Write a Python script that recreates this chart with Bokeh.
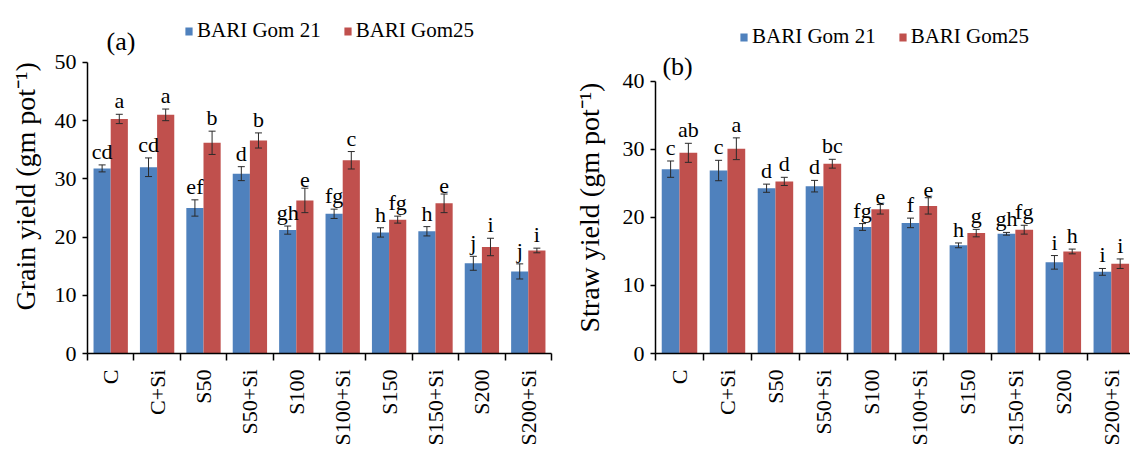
import numpy as np
from bokeh.plotting import figure
from bokeh.layouts import row
from bokeh.models import (ColumnDataSource, Range1d, FixedTicker, Whisker, Legend,
                          LegendItem, Label, TeeHead, Title)
from bokeh.transform import dodge
from bokeh.core.properties import value
from bokeh.embed import file_html
from bokeh.resources import INLINE

treatments = ["C", "C+Si", "S50", "S50+Si", "S100", "S100+Si", "S150", "S150+Si", "S200", "S200+Si"]
series = ["BARI Gom 21", "BARI Gom25"]

grain_g21 = [31.8, 32.0, 25.0, 30.9, 21.2, 24.0, 20.8, 21.0, 15.5, 14.1]
grain_g21_err = [0.6, 1.6, 1.4, 1.2, 0.7, 0.8, 0.8, 0.8, 1.2, 1.3]
grain_g25 = [40.3, 41.0, 36.2, 36.6, 26.3, 33.2, 23.0, 25.8, 18.3, 17.7]
grain_g25_err = [0.8, 1.0, 2.0, 1.3, 2.1, 1.5, 0.6, 1.6, 1.5, 0.4]
grain_g21_letters = ["cd", "cd", "ef", "d", "gh", "fg", "h", "h", "j", "j"]
grain_g25_letters = ["a", "a", "b", "b", "e", "c", "fg", "e", "i", "i"]

straw_g21 = [27.1, 26.9, 24.3, 24.6, 18.6, 19.2, 15.9, 17.6, 13.4, 12.0]
straw_g21_err = [1.2, 1.5, 0.6, 0.85, 0.5, 0.7, 0.35, 0.2, 1.0, 0.5]
straw_g25 = [29.5, 30.1, 25.3, 27.9, 21.2, 21.7, 17.7, 18.2, 15.0, 13.2]
straw_g25_err = [1.4, 1.6, 0.6, 0.65, 0.7, 1.2, 0.55, 0.65, 0.35, 0.7]
straw_g21_letters = ["c", "c", "d", "d", "fg", "f", "h", "gh", "i", "i"]
straw_g25_letters = ["ab", "a", "d", "bc", "e", "e", "g", "fg", "h", "i"]

grain_ticks = [0, 10, 20, 30, 40, 50]
straw_ticks = [0, 10, 20, 30, 40]

BLUE = "#4F81BD"
RED = "#C0504D"
SERIF = "Liberation Serif"
OFF = 0.185
BW = 0.37


def make_panel(a_vals, a_err, a_let, b_vals, b_err, b_let, yticks, ylabel, tag,
               width, min_left, min_right, min_top, min_bottom, xend, yend,
               legend_loc, tag_xy, ytitle_offset, ytitle_standoff):
    n = len(treatments)
    xs = [i + 0.5 for i in range(n)]
    p = figure(width=width, height=457, output_backend="svg", toolbar_location=None,
               title=None, x_range=Range1d(0, xend), y_range=Range1d(yticks[0], yend),
               min_border_left=min_left, min_border_right=min_right,
               min_border_top=min_top, min_border_bottom=min_bottom)
    p.outline_line_color = None
    p.xgrid.visible = False
    p.ygrid.visible = False
    p.background_fill_color = "white"
    p.border_fill_color = "white"

    src_a = ColumnDataSource(dict(x=xs, top=a_vals, up=[v + e for v, e in zip(a_vals, a_err)],
                                  lo=[v - e for v, e in zip(a_vals, a_err)], lab=a_let))
    src_b = ColumnDataSource(dict(x=xs, top=b_vals, up=[v + e for v, e in zip(b_vals, b_err)],
                                  lo=[v - e for v, e in zip(b_vals, b_err)], lab=b_let))

    ra = p.vbar(x=dodge("x", -OFF), top="top", bottom=0, width=BW, source=src_a,
                fill_color=BLUE, line_color=None)
    rb = p.vbar(x=dodge("x", OFF), top="top", bottom=0, width=BW, source=src_b,
                fill_color=RED, line_color=None)

    for src, off in ((src_a, -OFF), (src_b, OFF)):
        w = Whisker(base=dodge("x", off), upper="up", lower="lo", source=src,
                    line_color="#2a2a2a", line_width=1, level="overlay",
                    upper_head=TeeHead(size=7, line_color="#2a2a2a", line_width=1),
                    lower_head=TeeHead(size=7, line_color="#2a2a2a", line_width=1))
        p.add_layout(w)
        p.text(x=dodge("x", off), y="up", text="lab", source=src, text_align="center",
               text_baseline="bottom", y_offset=-1, text_font=value(SERIF),
               text_font_size="22px", text_color="black")

    # axes
    p.xaxis.ticker = FixedTicker(ticks=xs, minor_ticks=list(range(n + 1)))
    p.xaxis.major_label_overrides = {x: t for x, t in zip(xs, treatments)}
    p.xaxis.major_label_orientation = np.pi / 2
    p.xaxis.major_tick_out = 0
    p.xaxis.major_tick_in = 0
    p.xaxis.minor_tick_out = 7
    p.xaxis.minor_tick_in = 0
    p.xaxis.minor_tick_line_color = "black"
    p.xaxis.minor_tick_line_width = 1.5
    p.xaxis.major_label_text_font = SERIF
    p.xaxis.major_label_text_font_size = "22px"
    p.xaxis.major_label_text_color = "black"
    p.xaxis.major_label_standoff = 9
    p.xaxis.axis_line_width = 1.5
    p.xaxis.axis_line_color = "black"

    p.yaxis.ticker = FixedTicker(ticks=yticks)
    p.yaxis.bounds = (yticks[0], yticks[-1])
    p.yaxis.minor_tick_line_color = None
    p.yaxis.major_tick_out = 5
    p.yaxis.major_tick_in = 0
    p.yaxis.major_tick_line_width = 1.5
    p.yaxis.major_label_text_font = SERIF
    p.yaxis.major_label_text_font_size = "22px"
    p.yaxis.major_label_text_color = "black"
    p.yaxis.major_label_standoff = 6
    p.yaxis.axis_line_width = 1.5
    p.yaxis.axis_line_color = "black"

    p.add_layout(Title(text=ylabel, align="left", offset=ytitle_offset,
                       standoff=ytitle_standoff, text_font=SERIF, vertical_align="top",
                       text_font_size="28px", text_font_style="normal",
                       text_color="black"), "left")

    legend = Legend(items=[LegendItem(label=series[0], renderers=[ra]),
                           LegendItem(label=series[1], renderers=[rb])],
                    location=legend_loc, orientation="horizontal",
                    border_line_color=None, background_fill_alpha=0,
                    padding=0, margin=0, spacing=22, label_standoff=4,
                    glyph_width=9, glyph_height=10,
                    label_text_font=SERIF, label_text_font_size="21px",
                    label_text_color="black")
    p.add_layout(legend, "center")

    p.add_layout(Label(x=tag_xy[0], y=tag_xy[1], text=tag, text_font=SERIF,
                       text_font_size="26px", text_color="black",
                       text_align="center", text_baseline="middle"))
    return p


p1 = make_panel(grain_g21, grain_g21_err, grain_g21_letters,
                grain_g25, grain_g25_err, grain_g25_letters,
                grain_ticks, "Grain yield (gm pot\u207b\u00b9)", "(a)",
                width=560, min_left=87, min_right=9, min_top=5, min_bottom=104,
                xend=10, yend=59.79, legend_loc=(97, 310), tag_xy=(0.72, 53.6),
                ytitle_offset=43, ytitle_standoff=17)

p2 = make_panel(straw_g21, straw_g21_err, straw_g21_letters,
                straw_g25, straw_g25_err, straw_g25_letters,
                straw_ticks, "Straw yield (gm pot\u207b\u00b9)", "(b)",
                width=570, min_left=95, min_right=0, min_top=5, min_bottom=99,
                xend=9.9, yend=51.16, legend_loc=(84, 304), tag_xy=(0.46, 42.2),
                ytitle_offset=21, ytitle_standoff=26)

layout = row(p1, p2)
open("out.html", "w").write(file_html(layout, INLINE))
